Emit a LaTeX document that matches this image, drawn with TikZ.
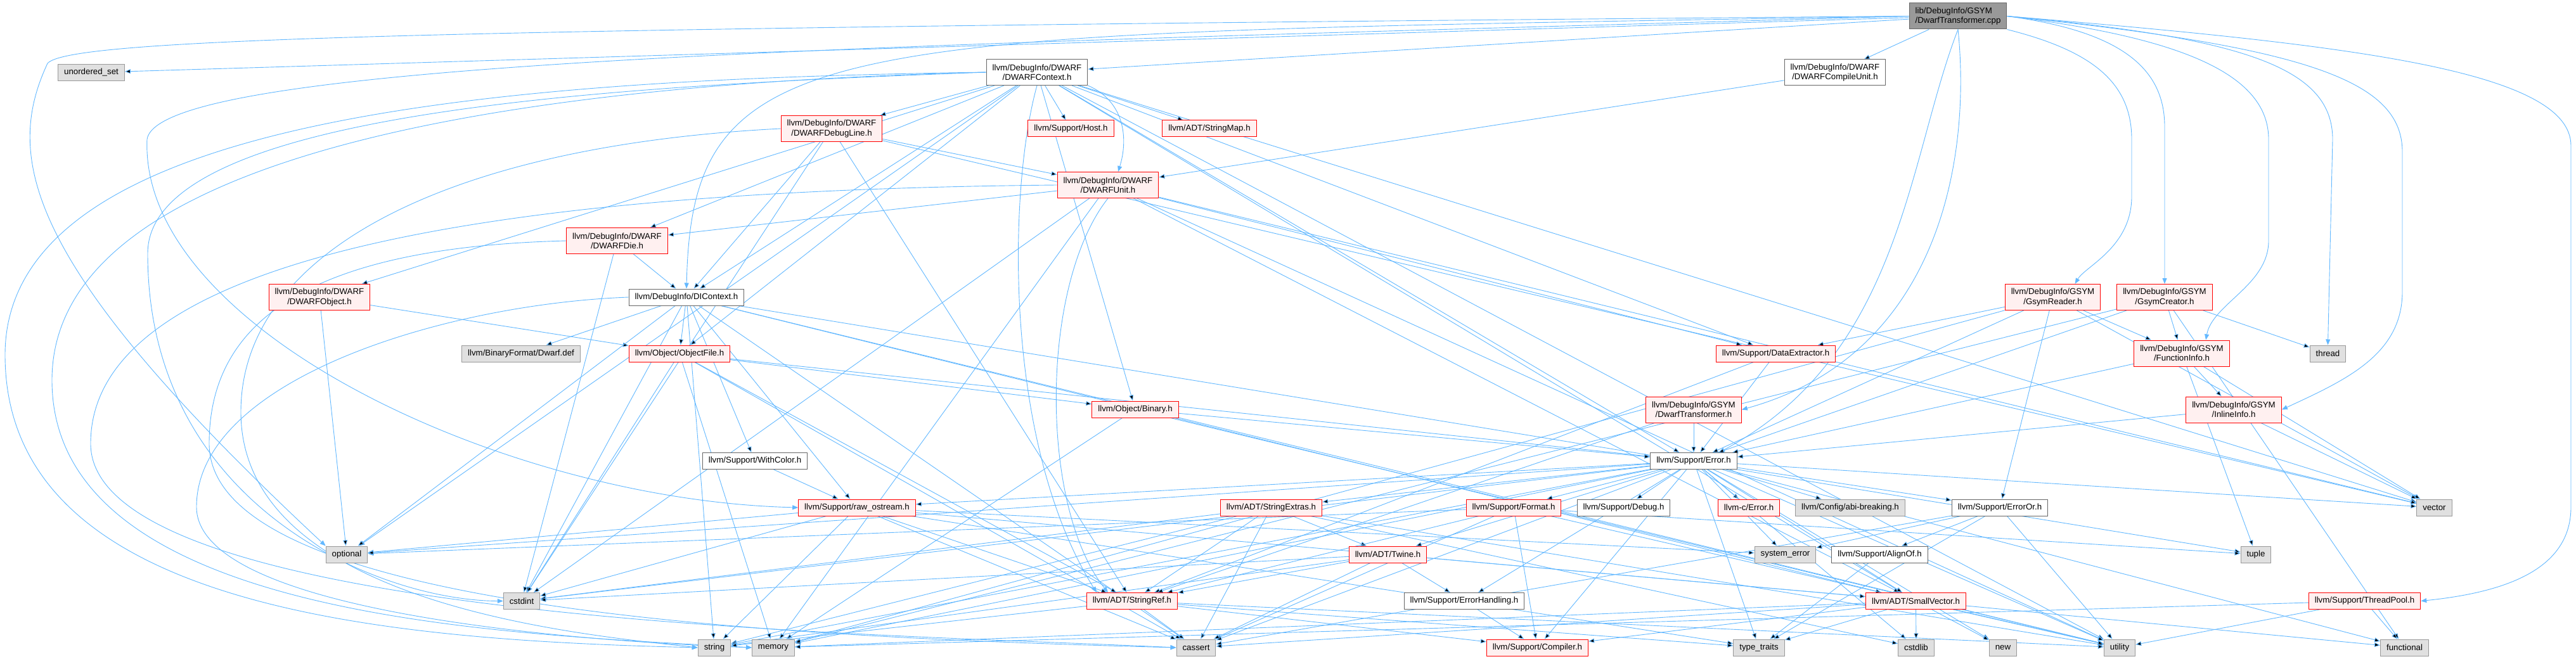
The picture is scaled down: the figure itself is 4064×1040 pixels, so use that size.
\documentclass[tikz,border=0pt]{standalone}
\usepackage{fontspec}
\setmainfont{Liberation Sans}
\usetikzlibrary{arrows.meta,backgrounds}
\definecolor{depblue}{HTML}{63B8FF}
\definecolor{rootgray}{HTML}{999999}
\definecolor{darkline}{HTML}{666666}
\definecolor{sysgray}{HTML}{E0E0E0}
\definecolor{sysline}{HTML}{999999}
\definecolor{cutpink}{HTML}{FFF0F0}
\definecolor{cutred}{HTML}{FF0000}
\begin{document}
\begin{tikzpicture}[x=1pt,y=-1pt,
    filebox/.style={draw=darkline,fill=white,line width=1pt,inner xsep=9.5pt,inner ysep=0pt,
      minimum height=26pt,align=center,font=\fontsize{13.3}{15.3}\selectfont},
    rootbox/.style={filebox,fill=rootgray,align=left},
    sysbox/.style={filebox,draw=sysline,fill=sysgray},
    cutbox/.style={filebox,draw=cutred,fill=cutpink},
    twoline/.style={minimum height=41pt},
    dep/.style={draw=depblue,line width=0.9pt,-{Triangle[length=9pt,width=7pt]}}]
    \useasboundingbox (0,0) rectangle (4064,1040);
    \node[rootbox,twoline] (root) at (3089,25.5) {lib/DebugInfo/GSYM\\/DwarfTransformer.cpp};
    \node[sysbox] (uset) at (144,114.5) {unordered\_set};
    \node[filebox,twoline] (ctx) at (1636,114) {llvm/DebugInfo/DWARF\\/DWARFContext.h};
    \node[filebox,twoline] (cu) at (2895,114.5) {llvm/DebugInfo/DWARF\\/DWARFCompileUnit.h};
    \node[cutbox,twoline] (dline) at (1312,203) {llvm/DebugInfo/DWARF\\/DWARFDebugLine.h};
    \node[cutbox] (host) at (1689.5,203) {llvm/Support/Host.h};
    \node[cutbox] (smap) at (1908,203) {llvm/ADT/StringMap.h};
    \node[cutbox,twoline] (unit) at (1748,292) {llvm/DebugInfo/DWARF\\/DWARFUnit.h};
    \node[cutbox,twoline] (dobj) at (504,469) {llvm/DebugInfo/DWARF\\/DWARFObject.h};
    \node[cutbox,twoline] (ddie) at (973.5,380) {llvm/DebugInfo/DWARF\\/DWARFDie.h};
    \node[filebox] (dictx) at (1083,469) {llvm/DebugInfo/DIContext.h};
    \node[sysbox] (dwdef) at (822,558) {llvm/BinaryFormat/Dwarf.def};
    \node[cutbox] (objf) at (1072,558) {llvm/Object/ObjectFile.h};
    \node[filebox] (withcolor) at (1191,727.5) {llvm/Support/WithColor.h};
    \node[cutbox] (rawos) at (1352,801) {llvm/Support/raw\_ostream.h};
    \node[sysbox] (cstdint) at (823,948.5) {cstdint};
    \node[sysbox] (string) at (1127,1022) {string};
    \node[sysbox] (memory) at (1220,1022) {memory};
    \node[sysbox] (optional) at (547,875) {optional};
    \node[cutbox] (binary) at (1791,646) {llvm/Object/Binary.h};
    \node[cutbox] (sref) at (1786,948.5) {llvm/ADT/StringRef.h};
    \node[sysbox] (cassert) at (1887,1022) {cassert};
    \node[cutbox] (sext) at (2005.5,801) {llvm/ADT/StringExtras.h};
    \node[cutbox,twoline] (gdt) at (2672,646.5) {llvm/DebugInfo/GSYM\\/DwarfTransformer.h};
    \node[filebox] (error) at (2672,727.5) {llvm/Support/Error.h};
    \node[cutbox] (format) at (2388,801) {llvm/Support/Format.h};
    \node[filebox] (debug) at (2561.5,801) {llvm/Support/Debug.h};
    \node[cutbox] (cerror) at (2759,801) {llvm-c/Error.h};
    \node[sysbox] (abi) at (2919,801) {llvm/Config/abi-breaking.h};
    \node[filebox] (erroror) at (3155,801) {llvm/Support/ErrorOr.h};
    \node[cutbox] (twine) at (2189.5,875) {llvm/ADT/Twine.h};
    \node[filebox] (errhand) at (2310,948.5) {llvm/Support/ErrorHandling.h};
    \node[cutbox] (compiler) at (2425.5,1022) {llvm/Support/Compiler.h};
    \node[sysbox] (syserr) at (2816.5,875) {system\_error};
    \node[filebox] (alignof) at (2965.5,875) {llvm/Support/AlignOf.h};
    \node[cutbox] (svec) at (3022.5,948.5) {llvm/ADT/SmallVector.h};
    \node[sysbox] (ttraits) at (2775,1022) {type\_traits};
    \node[sysbox] (cstdlib) at (3023,1022) {cstdlib};
    \node[sysbox] (newhdr) at (3160,1022) {new};
    \node[sysbox] (utility) at (3344,1022) {utility};
    \node[cutbox] (dext) at (2801.5,558) {llvm/Support/DataExtractor.h};
    \node[cutbox,twoline] (finfo) at (3442,557.5) {llvm/DebugInfo/GSYM\\/FunctionInfo.h};
    \node[cutbox,twoline] (iinfo) at (3524,646.5) {llvm/DebugInfo/GSYM\\/InlineInfo.h};
    \node[sysbox] (thread) at (3672.5,558) {thread};
    \node[sysbox] (vector) at (3840.5,801) {vector};
    \node[sysbox] (tuple) at (3559,875) {tuple};
    \node[cutbox] (tpool) at (3730.5,948.5) {llvm/Support/ThreadPool.h};
    \node[sysbox] (functional) at (3793.5,1022) {functional};
    \node[cutbox,twoline] (gread) at (3238.5,469) {llvm/DebugInfo/GSYM\\/GsymReader.h};
    \node[cutbox,twoline] (gcreate) at (3415,469) {llvm/DebugInfo/GSYM\\/GsymCreator.h};
    \begin{scope}[on background layer]
    \draw[dep] (root) edge (uset) edge (ctx) edge (cu);
    \draw[dep] (root.east) .. controls (3700,70) and (4056,110) .. (4056,230) -- (4056,800) .. controls (4056,900) and (3950,935) .. (tpool.east);
    \draw[dep] (root.east) .. controls (3550,60) and (3680,110) .. (3680,220) -- (thread.north);
    \draw[dep] (root.east) .. controls (3650,75) and (3790,130) .. (3790,240) -- (3790,460) .. controls (3790,560) and (3700,600) .. (iinfo.east);
    \draw[dep] (root.east) .. controls (3450,60) and (3579,120) .. (3579,220) -- (3579,380) .. controls (3579,450) and (3490,480) .. ([xshift=38pt]finfo.north);
    \draw[dep] (root.east) .. controls (3350,50) and (3415,110) .. (3415,200) -- (gcreate.north);
    \draw[dep] (root.south east) .. controls (3300,80) and (3363,130) .. (3363,220) -- (3363,310) .. controls (3363,390) and (3290,420) .. ([xshift=35pt]gread.north);
    \draw[dep] (root.south) .. controls (3110,250) and (3060,560) .. (gdt.east);
    \draw[dep] (root.south) .. controls (3010,250) and (3000,560) .. ([xshift=40pt]error.north);
    \draw[dep] (root.west) .. controls (1300,55) and (1092,40) .. (dictx.north);
    \draw[dep] (root.west) .. controls (700,45) and (110,60) .. (75,100) .. controls (5,250) and (40,420) .. (optional.north west);
    \draw[dep] (root.west) .. controls (1500,70) and (250,90) .. (232,220) .. controls (220,520) and (800,790) .. (rawos.west);
    \draw[dep] (ctx.west) .. controls (800,125) and (8,180) .. (8,560) .. controls (8,960) and (600,1010) .. (string.west);
    \draw[dep] (ctx.west) .. controls (900,130) and (82,220) .. (82,600) .. controls (82,980) and (800,1000) .. (memory.west);
    \draw[dep] (ctx.west) .. controls (1000,135) and (233,170) .. (233,400) .. controls (233,800) and (600,948) .. (cstdint.west);
    \draw[dep] (ctx.south east) .. controls (1775,160) and (1780,220) .. ([xshift=16pt]unit.north);
    \draw[dep] (ctx.south) .. controls (1590,300) and (1583,700) .. ([xshift=-56pt]sref.north);
    \draw[dep] (unit.south) .. controls (1640,450) and (1640,800) .. ([xshift=-38pt]sref.north);
    \draw[dep] (ddie.west) .. controls (500,390) and (330,500) .. (330,700) .. controls (330,960) and (1200,1005) .. (cassert.west);
    \draw[dep] (dline.west) .. controls (700,230) and (380,400) .. (380,650) .. controls (380,950) and (900,1000) .. (string.west);
    \draw[dep] (dictx.west) .. controls (700,480) and (310,600) .. (310,800) .. controls (310,965) and (900,1012) .. (memory.west);
    \draw[dep] (unit.west) .. controls (800,300) and (143,400) .. (143,700) .. controls (143,985) and (1400,1000) .. (cassert.west);
    \draw[dep] (ctx) edge (dline) edge (host) edge (smap) edge (dobj) edge (ddie) edge (dictx) edge (binary) edge (objf) edge (dext) edge (error) edge (svec) edge (utility) edge (vector) edge (optional);
    \draw[dep] (cu) edge (unit);
    \draw[dep] (dline) edge (dictx) edge (unit) edge (sref) edge (cstdint) edge (vector);
    \draw[dep] (unit) edge (ddie) edge (svec) edge (dext) edge (cstdint) edge (memory) edge (utility) edge (vector);
    \draw[dep] (ddie) edge (dictx) edge (cstdint);
    \draw[dep] (dobj) edge (objf) edge (optional);
    \draw[dep] (dictx) edge (dwdef) edge (objf) edge (withcolor) edge (rawos) edge (svec) edge (cassert) edge (cstdint) edge (optional) edge (string) edge (tuple) edge (utility);
    \draw[dep] (objf) edge (binary) edge (sref) edge (error) edge (cassert) edge (cstdint) edge (memory);
    \draw[dep] (binary) edge (error) edge (memory) edge (utility);
    \draw[dep] (withcolor) edge (rawos);
    \draw[dep] (rawos) edge (sref) edge (svec) edge (cassert) edge (cstdint) edge (optional) edge (string) edge (syserr) edge (ttraits);
    \draw[dep] (sext) edge (sref) edge (twine) edge (cassert) edge (cstdint) edge (cstdlib) edge (string) edge (utility);
    \draw[dep] (format) edge (sref) edge (compiler) edge (cassert) edge (optional) edge (tuple) edge (utility);
    \draw[dep] (error) edge (cerror) edge (sext) edge (twine) edge (abi) edge (compiler) edge (debug) edge (errhand) edge (erroror) edge (format) edge (rawos) edge (svec) edge (cassert) edge (cstdint) edge (cstdlib) edge (functional) edge (memory) edge (newhdr) edge (optional) edge (string) edge (syserr) edge (ttraits) edge (utility) edge (vector);
    \draw[dep] (erroror) edge (alignof) edge (syserr) edge (ttraits) edge (cassert) edge (utility);
    \draw[dep] (alignof) edge (ttraits);
    \draw[dep] (twine) edge (svec) edge (sref) edge (errhand) edge (cassert) edge (cstdint) edge (string);
    \draw[dep] (errhand) edge (compiler);
    \draw[dep] (sref) edge (compiler) edge (cassert) edge (string) edge (ttraits) edge (utility);
    \draw[dep] (svec) edge (compiler) edge (cassert) edge (cstdlib) edge (functional) edge (memory) edge (newhdr) edge (ttraits) edge (utility);
    \draw[dep] (dext) edge (sref) edge (error);
    \draw[dep] (gdt) edge (sref) edge (error);
    \draw[dep] (gread) edge (finfo) edge (dext) edge (erroror) edge (error) edge (memory) edge (vector);
    \draw[dep] (gcreate) edge (finfo) edge (error) edge (functional) edge (memory) edge (thread);
    \draw[dep] (finfo) edge (iinfo) edge (error) edge (tuple) edge (vector);
    \draw[dep] (iinfo) edge (error) edge (vector);
    \draw[dep] (tpool) edge (functional) edge (memory) edge (utility);
    \end{scope}
\end{tikzpicture}
\end{document}
